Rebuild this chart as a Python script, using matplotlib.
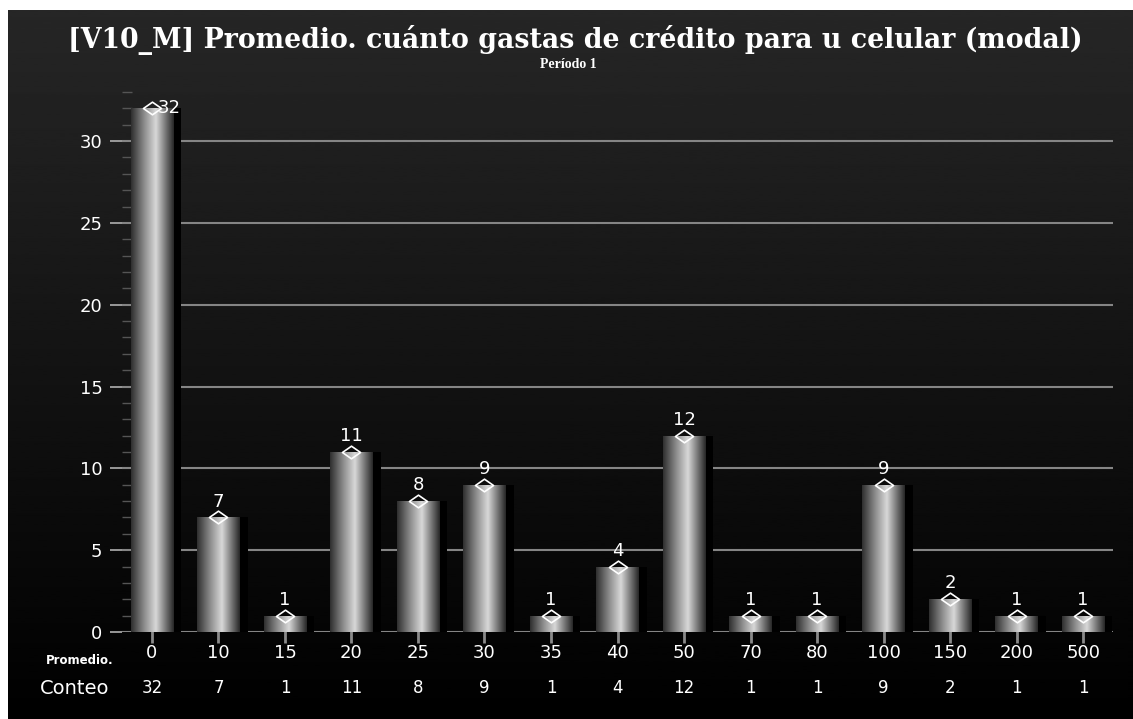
import matplotlib
matplotlib.use("Agg")
import matplotlib.pyplot as plt
import numpy as np
from matplotlib.path import Path
from matplotlib.colors import LinearSegmentedColormap

categories = ["0", "10", "15", "20", "25", "30", "35", "40", "50", "70", "80", "100", "150", "200", "500"]
counts = [32, 7, 1, 11, 8, 9, 1, 4, 12, 1, 1, 9, 2, 1, 1]
title = "[V10_M] Promedio. cuánto gastas de crédito para u celular (modal)"
subtitle = "Período 1"
row1_label = "Promedio."
row2_label = "Conteo"

W, H = 1133, 719
fig = plt.figure(figsize=(W / 100, H / 100), dpi=100)
fig.patch.set_facecolor("white")

# background gradient panel (dark)
bg = fig.add_axes([8 / W, 0, 1 - 8 / W, 1 - 10 / H], zorder=-10)
grad = np.linspace(0.15, 0.0, 256).reshape(-1, 1)
bg.imshow(grad, aspect="auto", cmap="gray", vmin=0, vmax=1, extent=[0, 1, 0, 1], origin="upper")
bg.set_axis_off()

x = np.arange(len(categories))
ax = fig.add_axes([122 / W, (H - 632) / H, (1113 - 122) / W, (632 - 92) / H])
ax.set_facecolor("none")

for sp in ax.spines.values():
    sp.set_visible(False)

# gridlines
ax.set_yticks([0, 5, 10, 15, 20, 25, 30])
ax.set_yticks(np.arange(0, 34, 1), minor=True)
ax.yaxis.grid(True, which="major", color="#858585", linewidth=1.5, zorder=0)
ax.set_axisbelow(True)
ax.tick_params(axis="y", which="major", colors="#b0b0b0", labelcolor="white",
               length=9, width=1.2, direction="out", labelsize=13, pad=5)
ax.tick_params(axis="y", which="minor", colors="#555555", length=7, width=1, direction="in")
ax.tick_params(axis="x", which="major", colors="#8a8a8a", labelcolor="white",
               length=16, width=2, direction="inout", labelsize=13, pad=1)
ax.set_xticks(x)
ax.set_xticklabels(categories)
for lab in ax.get_xticklabels() + ax.get_yticklabels():
    lab.set_fontfamily("DejaVu Sans")

bw = 0.64
cmap = LinearSegmentedColormap.from_list(
    "cyl", [(0, "#2e2e2e"), (0.3, "#8a8a8a"), (0.58, "#d8d8d8"), (0.8, "#7a7a7a"), (1, "#262626")])
gimg = np.linspace(0, 1, 256).reshape(1, -1)
bars = ax.bar(x, counts, width=bw, color="#888888", zorder=3, linewidth=0)
for b in bars:
    x0, w, h = b.get_x(), b.get_width(), b.get_height()
    # shadow
    ax.bar(x0 + w + 0.06, h, width=0.12, color="black", zorder=2, linewidth=0)
    im = ax.imshow(gimg, aspect="auto", cmap=cmap, extent=[x0, x0 + w, 0, h], zorder=3.5)
    im.set_clip_path(b)
ax.set_xlim(-0.45, len(categories) - 0.55)
ax.set_ylim(0, 33)

# diamonds + value labels
dia = Path([(-1, 0), (0, 0.7), (1, 0), (0, -0.7), (-1, 0)],
           [Path.MOVETO, Path.LINETO, Path.LINETO, Path.LINETO, Path.CLOSEPOLY])
ax.plot(x, counts, linestyle="none", marker=dia, markersize=13, markerfacecolor="none",
        markeredgecolor="white", markeredgewidth=1.2, zorder=5, clip_on=False)
for xi, v in zip(x, counts):
    if v > 30:
        ax.annotate(str(v), (xi, v), xytext=(4, 0), textcoords="offset points",
                    ha="left", va="center", color="white", fontsize=13, zorder=6)
    else:
        ax.annotate(str(v), (xi, v), xytext=(0, 5), textcoords="offset points",
                    ha="center", va="bottom", color="white", fontsize=13, zorder=6)

# bottom table rows
for xi, v in zip(x, counts):
    ax.annotate(str(v), (xi, 0), xycoords=("data", "axes fraction"),
                xytext=(0, -(688 - 632) * 0.72), textcoords="offset points",
                ha="center", va="center", color="white", fontsize=12)
fig.text(80 / W, 1 - 661 / H, row1_label, ha="center", va="center", color="white",
         fontsize=8.5, fontweight="bold")
fig.text(75 / W, 1 - 688 / H, row2_label, ha="center", va="center", color="white", fontsize=14)

# titles
fig.text(575 / W, 1 - 40 / H, title, ha="center", va="center", color="white",
         fontsize=19.3, fontweight="bold", family="DejaVu Serif")
fig.text(568 / W, 1 - 64 / H, subtitle, ha="center", va="center", color="white",
         fontsize=10, fontweight="bold", family="Liberation Serif")

fig.savefig("out.png", dpi=100, facecolor=fig.get_facecolor())
